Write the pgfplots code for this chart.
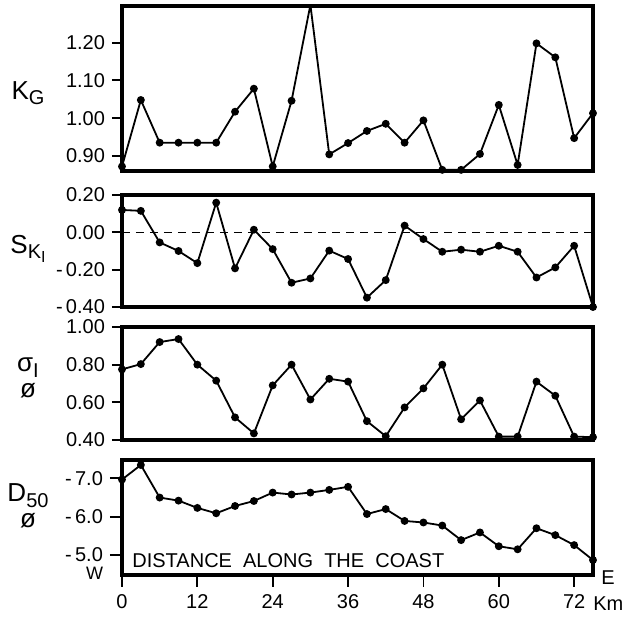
\documentclass[border=0pt]{standalone}
\usepackage{pgfplots}
\pgfplotsset{compat=1.18}
\usepackage{fontspec}
\setmainfont{Liberation Sans}

% distance along the coast (km) and the four grain-size parameters
\pgfplotstableread{
x    kg     sk      sg     d
0    0.872  0.120   0.775  6.97
3    1.048  0.115   0.803  7.35
6    0.935  -0.054  0.920  6.50
9    0.935  -0.100  0.936  6.42
12   0.935  -0.165  0.800  6.23
15   0.935  0.159   0.715  6.09
18   1.017  -0.193  0.520  6.28
21   1.078  0.014   0.435  6.41
24   0.872  -0.090  0.690  6.63
27   1.046  -0.270  0.800  6.58
30   1.300  -0.247  0.615  6.63
33   0.904  -0.098  0.725  6.70
36   0.934  -0.143  0.710  6.78
39   0.966  -0.350  0.500  6.07
42   0.985  -0.256  0.420  6.20
45   0.935  0.036   0.573  5.89
48   0.994  -0.036  0.674  5.85
51   0.863  -0.104  0.800  5.77
54   0.863  -0.093  0.510  5.39
57   0.905  -0.104  0.610  5.59
60   1.035  -0.072  0.418  5.23
63   0.876  -0.104  0.418  5.15
66   1.198  -0.242  0.710  5.70
69   1.161  -0.188  0.635  5.52
72   0.947  -0.072  0.418  5.26
75   1.013  -0.400  0.415  4.87
}\coast

\pgfplotsset{
  panel/.style={
    scale only axis, width=235.5pt, xmin=0, xmax=75,
    axis line style={line width=1.6pt},
    tick style={line width=0.9pt, black},
    ytick pos=left, tick align=outside, major tick length=5pt,
    xtick=\empty,
    tick label style={font=\fontsize{10}{12}\selectfont},
    /pgf/number format/assume math mode=true,
  },
  series/.style={black, line width=0.9pt, mark=*, mark size=1.5pt},
}
\tikzset{
  lab/.style={font=\fontsize{13}{15}\selectfont, align=center, xshift=-47pt},
  small/.style={font=\fontsize{10}{12}\selectfont, inner sep=0pt},
}

\begin{document}
\begin{tikzpicture}
\path[use as bounding box] (-61pt,0pt) rectangle (250pt,-309.5pt);

\begin{axis}[panel, name=p1, at={(0,-3pt)}, anchor=north west, height=82.5pt,
  ymin=0.86, ymax=1.297,
  ytick={0.9,1.0,1.1,1.2}, yticklabels={0.90,1.00,1.10,1.20}]
\addplot[series] table[x=x, y=kg] {\coast};
\end{axis}
\node[lab] at ([yshift=38.8pt]p1.south west) {K\raisebox{-0.35ex}{\fontsize{10}{10}\selectfont G}};

\begin{axis}[panel, name=p2, at={(0,-97.5pt)}, anchor=north west, height=56pt,
  ymin=-0.40, ymax=0.20,
  ytick={-0.4,-0.2,0,0.2}, yticklabels={-\,0.40,-\,0.20,0.00,0.20}]
\addplot[black, line width=0.8pt, dash pattern=on 4pt off 3pt] coordinates {(0,0) (75,0)};
\addplot[series] table[x=x, y=sk] {\coast};
\end{axis}
\node[lab] at ([yshift=29pt]p2.south west) {S\raisebox{-0.4ex}{\fontsize{10}{10}\selectfont K\raisebox{-0.4ex}{\fontsize{8}{8}\selectfont I}}};

\begin{axis}[panel, name=p3, at={(0,-163.5pt)}, anchor=north west, height=56.5pt,
  ymin=0.40, ymax=1.00,
  ytick={0.4,0.6,0.8,1.0}, yticklabels={0.40,0.60,0.80,1.00}]
\addplot[series] table[x=x, y=sg] {\coast};
\end{axis}
\node[lab] at ([yshift=31pt]p3.south west) {σ\raisebox{-0.4ex}{\fontsize{10}{10}\selectfont I}\\[-2pt]ø};

\begin{axis}[panel, name=p4, at={(0,-230pt)}, anchor=north west, height=57.5pt,
  ymin=4.48, ymax=7.48,
  ytick={5,6,7}, yticklabels={-\,5.0,-\,6.0,-\,7.0},
  xtick={0,12,...,72}, xtick pos=bottom, major tick length=6pt]
\addplot[series] table[x=x, y=d] {\coast};
\end{axis}
\node[lab] at ([yshift=34.5pt]p4.south west) {D\raisebox{-0.4ex}{\fontsize{10}{10}\selectfont 50}\\[-2pt]ø};
\node[small, anchor=south west] at ([xshift=5pt, yshift=3.5pt]p4.south west) {DISTANCE\ \ ALONG\ \ THE\ \ COAST};
\node[small, font=\fontsize{9}{10}\selectfont] at ([xshift=-13.75pt, yshift=1pt]p4.south west) {W};
\node[small, anchor=west] at ([xshift=4pt, yshift=-1.5pt]p4.south east) {E};
\node[small, anchor=west] at ([xshift=0pt, yshift=-14.5pt]p4.south east) {Km};
\end{tikzpicture}
\end{document}
